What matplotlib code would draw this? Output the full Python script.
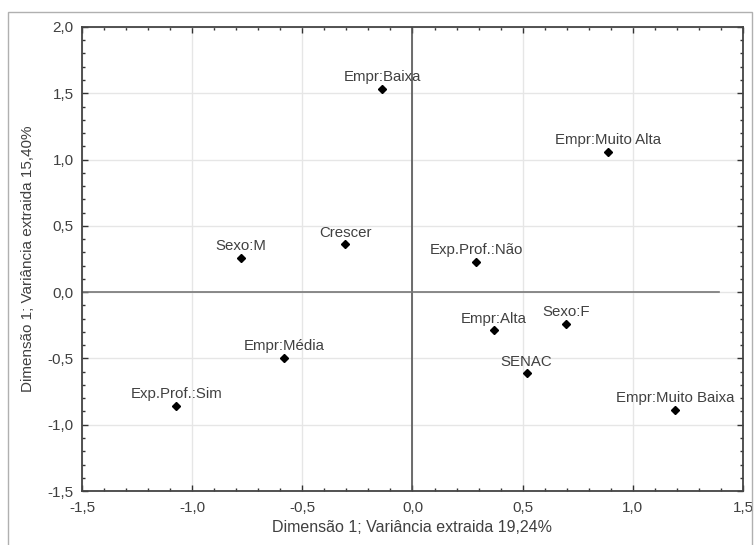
import numpy as np
import matplotlib.pyplot as plt
import matplotlib.ticker as ticker
from matplotlib.patches import Rectangle

# Data
labels = ['Empr:Baixa', 'Empr:Muito Alta', 'Exp.Prof.:Não', 'Sexo:M', 'Crescer',
          'Empr:Média', 'Exp.Prof.:Sim', 'Empr:Alta', 'Sexo:F', 'SENAC',
          'Empr:Muito Baixa']
dim1 = [-0.138, 0.887, 0.288, -0.780, -0.305, -0.582, -1.072, 0.368, 0.697, 0.518, 1.193]
dim2 = [1.530, 1.056, 0.226, 0.259, 0.360, -0.498, -0.860, -0.289, -0.239, -0.613, -0.885]

x_ticks = [-1.5, -1.0, -0.5, 0.0, 0.5, 1.0, 1.5]
y_ticks = [-1.5, -1.0, -0.5, 0.0, 0.5, 1.0, 1.5, 2.0]

plt.rcParams['font.family'] = ['Liberation Sans', 'DejaVu Sans']
text_col = '#404040'

fig = plt.figure(figsize=(7.55, 5.45), dpi=100)
ax = fig.add_axes([0.1086, 0.099, 0.8755, 0.8515])

# outer frame around the figure
fig.patches.append(Rectangle((0.011, -0.01), 0.985, 0.988, transform=fig.transFigure,
                             fill=False, edgecolor='#b0b0b0', linewidth=1.0))

ax.set_xlim(-1.5, 1.5)
ax.set_ylim(-1.5, 2.0)
ax.grid(True, color='#e6e6e6', linewidth=1.0)
ax.set_axisbelow(True)

# reference lines through the origin
ax.axvline(0, color='#555555', linewidth=1.2, zorder=1)
ax.plot([-1.5, 1.39], [0, 0], color='#777777', linewidth=1.2, zorder=1)

ax.plot(dim1, dim2, 'D', color='black', markersize=4, zorder=3)
for lab, x, y in zip(labels, dim1, dim2):
    ax.annotate(lab, (x, y), xytext=(0, 3.5), textcoords='offset points',
                ha='center', va='bottom', fontsize=10.8, color=text_col)

fmt = ticker.FuncFormatter(lambda v, p: f'{v:.1f}'.replace('.', ','))
ax.xaxis.set_major_locator(ticker.FixedLocator(x_ticks))
ax.yaxis.set_major_locator(ticker.FixedLocator(y_ticks))
ax.xaxis.set_major_formatter(fmt)
ax.yaxis.set_major_formatter(fmt)
ax.xaxis.set_minor_locator(ticker.MultipleLocator(0.1))
ax.yaxis.set_minor_locator(ticker.MultipleLocator(0.1))

ax.tick_params(axis='both', which='both', direction='in', top=True, right=True,
               colors='#333333', labelcolor=text_col, labelsize=11)
ax.tick_params(axis='both', which='major', length=4, width=1)
ax.tick_params(axis='both', which='minor', length=2, width=1)
ax.tick_params(axis='x', pad=7)
ax.tick_params(axis='y', pad=6)

for s in ax.spines.values():
    s.set_color('#444444')
    s.set_linewidth(1.3)

ax.set_xlabel('Dimensão 1; Variância extraida 19,24%', fontsize=11.5, color=text_col, labelpad=4)
ax.set_ylabel('Dimensão 1; Variância extraida 15,40%', fontsize=11, color=text_col, labelpad=9)

fig.savefig('out.png', dpi=100)
